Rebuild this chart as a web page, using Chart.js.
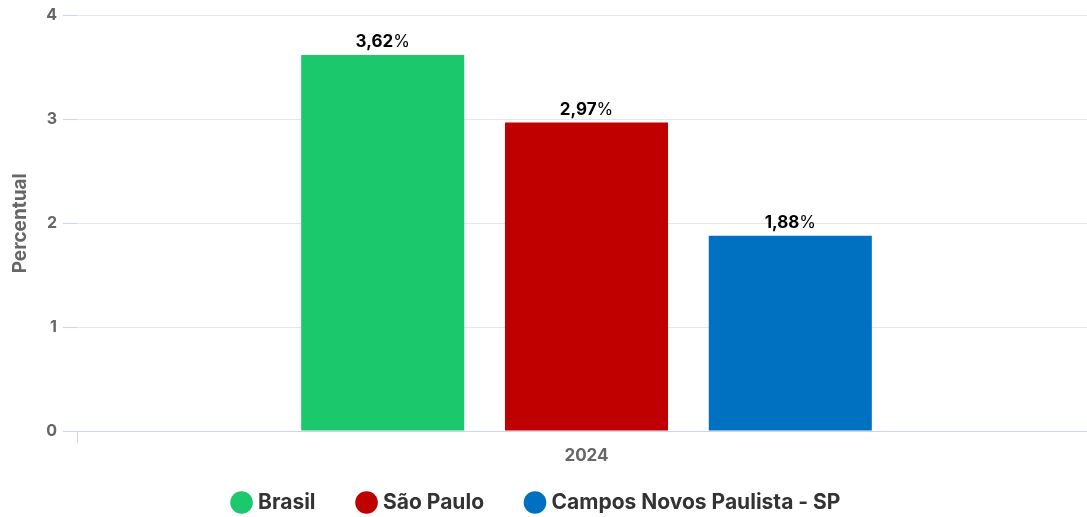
<!DOCTYPE html>
<html>
<head>
<meta charset="utf-8">
<script src="https://cdn.jsdelivr.net/npm/chart.js@4.4.1/dist/chart.umd.min.js"></script>
<style>
  html, body { margin: 0; padding: 0; background: #fff; overflow: hidden; }
  /* plot runs a little past the right edge, like the original */
  #wrap { width: 1096px; height: 517px; }
</style>
</head>
<body>
<div id="wrap"><canvas id="chart"></canvas></div>
<script>
const categories = ['2024'];
const seriesNames = ['Brasil', 'São Paulo', 'Campos Novos Paulista - SP'];
const seriesColors = ['#1bc96c', '#c00000', '#0070c0'];
const brasilValues = [3.62];
const saoPauloValues = [2.97];
const camposValues = [1.88];
const yTicks = [0, 1, 2, 3, 4];

const fontFamily = 'Inter, "Noto Sans", sans-serif';

// draws "3,62%" above each bar, number bold and % regular
const valueLabels = {
    id: 'valueLabels',
    afterDatasetsDraw(chart) {
        const ctx = chart.ctx;
        ctx.save();
        ctx.textBaseline = 'alphabetic';
        chart.data.datasets.forEach((ds, i) => {
            const meta = chart.getDatasetMeta(i);
            meta.data.forEach((bar, j) => {
                const num = ds.data[j].toFixed(2).replace('.', ',');
                ctx.font = 'bold 17px ' + fontFamily;
                const w1 = ctx.measureText(num).width;
                ctx.font = '17px ' + fontFamily;
                const w2 = ctx.measureText('%').width;
                const x0 = bar.x - (w1 + w2) / 2;
                const y = bar.y - 8;
                ctx.fillStyle = '#000';
                ctx.textAlign = 'left';
                ctx.font = 'bold 17px ' + fontFamily;
                ctx.fillText(num, x0, y);
                ctx.font = '17px ' + fontFamily;
                ctx.fillText('%', x0 + w1, y);
            });
        });
        ctx.restore();
    }
};

// legend padding is wide horizontally; keep its box short and move it up/left when drawing
const legendFix = {
    id: 'legendFix',
    beforeInit(chart) {
        const legend = chart.legend;
        const fit = legend.fit;
        legend.fit = function () {
            fit.call(this);
            this.height = 50;
        };
        const draw = legend.draw;
        legend.draw = function () {
            const { top, left, right } = this;
            this.top = top - 20;
            this.left = left - 10;
            this.right = right - 10;
            draw.apply(this, arguments);
            this.top = top;
            this.left = left;
            this.right = right;
        };
    }
};

const ctx = document.getElementById('chart').getContext('2d');
const chart = new Chart(ctx, {
    type: 'bar',
    data: {
        labels: categories,
        datasets: [brasilValues, saoPauloValues, camposValues].map((vals, i) => ({
            label: seriesNames[i],
            data: vals,
            backgroundColor: seriesColors[i],
            borderWidth: 0,
            barPercentage: 0.8,
            categoryPercentage: 0.6
        }))
    },
    options: {
        responsive: true,
        maintainAspectRatio: false,
        animation: false,
        layout: { padding: { top: 8, right: 0, bottom: 0, left: 0 } },
        plugins: {
            tooltip: { enabled: false },
            legend: {
                position: 'bottom',
                labels: {
                    usePointStyle: true,
                    pointStyle: 'circle',
                    boxWidth: 12,
                    boxHeight: 16,
                    padding: 45,
                    color: '#333',
                    font: { family: fontFamily, size: 21, weight: 'bold' }
                }
            }
        },
        scales: {
            x: {
                offset: true,
                grid: {
                    drawOnChartArea: false,
                    tickLength: 12,
                    tickColor: '#ccd6eb'
                },
                border: { display: true, color: '#ccd6eb', width: 1 },
                ticks: {
                    color: '#666',
                    padding: 3,
                    font: { family: fontFamily, size: 17, weight: 'bold' }
                },
                afterFit(scale) { scale.height = 36; }
            },
            y: {
                min: 0,
                max: 4,
                afterBuildTicks(scale) { scale.ticks = yTicks.map(v => ({ value: v })); },
                grid: {
                    color: '#e6e6e6',
                    tickColor: '#ccd6eb',
                    tickLength: 14
                },
                border: { display: false },
                ticks: {
                    color: '#666',
                    padding: 6,
                    font: { family: fontFamily, size: 16, weight: 'bold' }
                },
                title: {
                    display: true,
                    text: 'Percentual',
                    color: '#666',
                    padding: 9,
                    font: { family: fontFamily, size: 19, weight: 'bold' }
                },
                afterFit(scale) { scale.width = 77; }
            }
        }
    },
    plugins: [valueLabels, legendFix]
});
</script>
</body>
</html>
